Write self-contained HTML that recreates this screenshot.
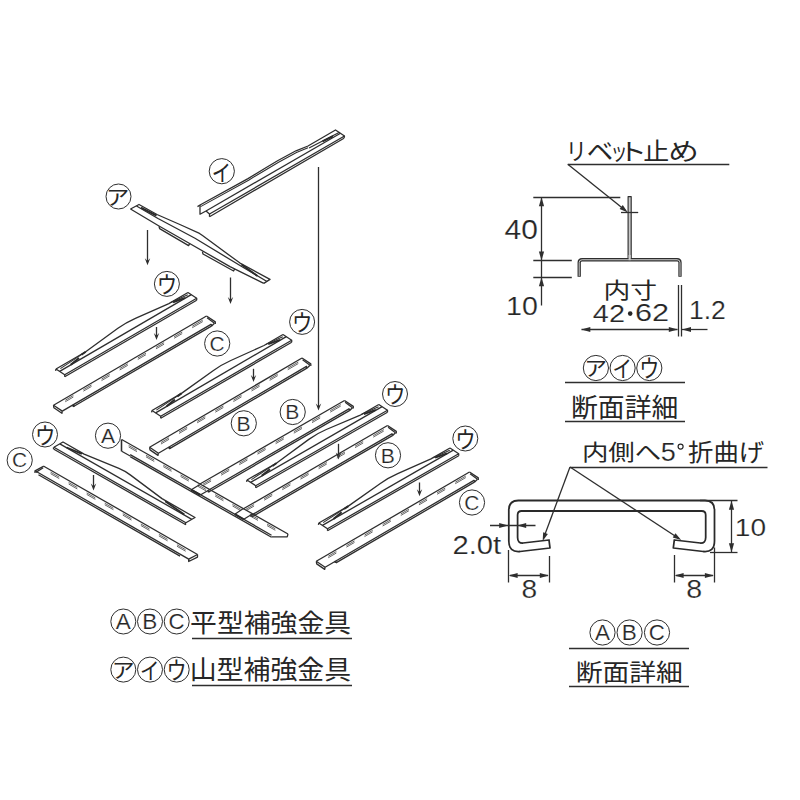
<!DOCTYPE html>
<html lang="ja"><head><meta charset="utf-8"><title>補強金具 断面詳細</title>
<style>
html,body{margin:0;padding:0;background:#fff;}
body{width:800px;height:800px;overflow:hidden;font-family:"Liberation Sans","Noto Sans CJK JP",sans-serif;}
svg{display:block;}
svg text{font-family:"Liberation Sans","Noto Sans CJK JP",sans-serif;}
</style></head><body>
<svg width="800" height="800" viewBox="0 0 800 800" stroke-linecap="butt" stroke-linejoin="round">
<rect width="800" height="800" fill="#fff"/>
<text transform="matrix(0.2104 0 0 0.2364 565.67 160.19)" font-size="100" fill="#262626">リ</text>
<text transform="matrix(0.2652 0 0 0.2364 586.69 160.19)" font-size="100" fill="#262626">ベ</text>
<text transform="matrix(0.1692 0 0 0.2364 610.61 160.19)" font-size="100" fill="#262626">ッ</text>
<text transform="matrix(0.2857 0 0 0.2364 618.30 160.19)" font-size="100" fill="#262626">ト</text>
<text transform="matrix(0.2600 0 0 0.2364 643.33 160.19)" font-size="100" fill="#262626">止</text>
<text transform="matrix(0.3061 0 0 0.2364 668.17 160.19)" font-size="100" fill="#262626">め</text>
<line x1="567.8" y1="164.5" x2="729.3" y2="164.5" stroke="#2e2e2e" stroke-width="1.43"/>
<line x1="567.8" y1="164.2" x2="625.5" y2="210.6" stroke="#2e2e2e" stroke-width="1.3"/>
<path d="M627.8 212.4 L619.62 208.99 L622.77 205.11 Z" fill="#2e2e2e" stroke="none"/>
<rect x="628.1" y="196.6" width="3.1" height="62" fill="#c8c8c8" stroke="#2e2e2e" stroke-width="1.15"/>
<line x1="621" y1="212.5" x2="638.2" y2="212.5" stroke="#2e2e2e" stroke-width="1.3"/>
<path d="M579.2 276.7 L579.2 262.6 Q579.2 259.75 582.1 259.75 L677.1 259.75 Q680 259.75 680 262.6 L680 276.7" fill="none" stroke="#2e2e2e" stroke-width="3.3"/>
<path d="M579.2 276 L579.2 262.6 Q579.2 259.75 582.1 259.75 L677.1 259.75 Q680 259.75 680 262.6 L680 276" fill="none" stroke="#cfcfcf" stroke-width="1.0"/>
<rect x="628.6" y="255" width="2.1" height="5.2" fill="#cfcfcf"/>
<line x1="533.3" y1="197.5" x2="620.3" y2="197.5" stroke="#2e2e2e" stroke-width="1.3"/>
<line x1="533.3" y1="260.5" x2="571.8" y2="260.5" stroke="#2e2e2e" stroke-width="1.3"/>
<line x1="533.3" y1="277.5" x2="571.8" y2="277.5" stroke="#2e2e2e" stroke-width="1.3"/>
<line x1="541.5" y1="197" x2="541.5" y2="277" stroke="#2e2e2e" stroke-width="1.3"/>
<path d="M541.5 197.3 L544.1 206.3 L538.9 206.3 Z" fill="#2e2e2e" stroke="none"/>
<path d="M541.5 260.6 L538.9 251.6 L544.1 251.6 Z" fill="#2e2e2e" stroke="none"/>
<line x1="541.5" y1="277" x2="541.5" y2="305.5" stroke="#2e2e2e" stroke-width="1.3"/>
<path d="M541.5 277.3 L544.1 286.3 L538.9 286.3 Z" fill="#2e2e2e" stroke="none"/>
<text transform="matrix(0.2999 0 0 0.2740 504.61 238.93)" font-size="100" fill="#262626" stroke="#fff" stroke-width="0.70">40</text>
<text transform="matrix(0.2858 0 0 0.2599 506.12 314.95)" font-size="100" fill="#262626" stroke="#fff" stroke-width="0.73">10</text>
<text transform="matrix(0.2681 0 0 0.2202 603.55 297.99)" font-size="100" fill="#262626">内寸</text>
<text transform="matrix(0.2887 0 0 0.2349 592.84 321.60)" font-size="100" fill="#262626" stroke="#fff" stroke-width="0.76">42</text>
<circle cx="630.2" cy="313.6" r="2.3" fill="#262626"/>
<text transform="matrix(0.3066 0 0 0.2316 634.94 321.37)" font-size="100" fill="#262626" stroke="#fff" stroke-width="0.74">62</text>
<text transform="matrix(0.2651 0 0 0.2578 688.98 319.20)" font-size="100" fill="#262626" stroke="#fff" stroke-width="0.76">1.2</text>
<line x1="678.5" y1="285" x2="678.5" y2="336.5" stroke="#2e2e2e" stroke-width="1.3"/>
<line x1="681.5" y1="285" x2="681.5" y2="336.5" stroke="#2e2e2e" stroke-width="1.3"/>
<line x1="581.5" y1="329.5" x2="677.5" y2="329.5" stroke="#2e2e2e" stroke-width="1.3"/>
<path d="M581.3 329.5 L590.3 326.9 L590.3 332.1 Z" fill="#2e2e2e" stroke="none"/>
<path d="M677.8 329.5 L668.8 332.1 L668.8 326.9 Z" fill="#2e2e2e" stroke="none"/>
<line x1="682" y1="329.5" x2="707.5" y2="329.5" stroke="#2e2e2e" stroke-width="1.3"/>
<path d="M682 329.5 L691 326.9 L691 332.1 Z" fill="#2e2e2e" stroke="none"/>
<circle cx="595.9" cy="368" r="12.6" fill="none" stroke="#2e2e2e" stroke-width="1.0"/>
<text transform="matrix(0.2292 0 0 0.2058 584.36 376.04)" font-size="100" fill="#262626">ア</text>
<circle cx="622.6" cy="368" r="12.6" fill="none" stroke="#2e2e2e" stroke-width="1.0"/>
<text transform="matrix(0.1943 0 0 0.2310 612.53 377.48)" font-size="100" fill="#262626">イ</text>
<circle cx="649.3" cy="368" r="12.6" fill="none" stroke="#2e2e2e" stroke-width="1.0"/>
<text transform="matrix(0.2011 0 0 0.2411 639.17 377.41)" font-size="100" fill="#262626">ウ</text>
<line x1="565" y1="382.5" x2="685" y2="382.5" stroke="#2e2e2e" stroke-width="1.56"/>
<text transform="matrix(0.2681 0 0 0.2578 571.03 416.51)" font-size="100" fill="#262626">断面詳細</text>
<line x1="565" y1="421.5" x2="685" y2="421.5" stroke="#2e2e2e" stroke-width="1.56"/>
<text transform="matrix(0.2647 0 0 0.2169 581.88 459.72)" font-size="100" fill="#262626">内側へ</text>
<text transform="matrix(0.2700 0 0 0.2580 660.72 460.75)" font-size="100" fill="#262626" stroke="#fff" stroke-width="0.76">5</text>
<circle cx="680.6" cy="446.6" r="2.5" fill="none" stroke="#262626" stroke-width="1.2"/>
<text transform="matrix(0.2535 0 0 0.2337 688.09 460.63)" font-size="100" fill="#262626">折曲げ</text>
<line x1="570" y1="467.5" x2="767.5" y2="467.5" stroke="#2e2e2e" stroke-width="1.56"/>
<line x1="570" y1="467" x2="543.6" y2="538" stroke="#2e2e2e" stroke-width="1.3"/>
<path d="M542.6 541 L543.2 532.16 L547.89 533.9 Z" fill="#2e2e2e" stroke="none"/>
<line x1="570" y1="467" x2="678.5" y2="538.3" stroke="#2e2e2e" stroke-width="1.3"/>
<path d="M681.2 540.1 L672.72 537.52 L675.47 533.34 Z" fill="#2e2e2e" stroke="none"/>
<path d="M550 548 L549 540 L523 543 Q517.6 543.3 517.6 537.5 L517.6 515 Q517.6 511 521.6 511 L701.7 511 Q705.7 511 705.7 515 L705.7 537.5 Q705.7 543.3 700.3 543 L674.3 540 L673.3 548 L703.3 551.5 Q714.5 552.5 714.5 541 L714.5 510 Q714.5 500.5 705 500.5 L518.3 500.5 Q508.8 500.5 508.8 510 L508.8 541 Q508.8 552.5 520 551.5 Z" fill="none" stroke="#2a2a2a" stroke-width="1.76"/>
<line x1="490" y1="525.5" x2="535.5" y2="525.5" stroke="#2e2e2e" stroke-width="1.3"/>
<path d="M508.2 525.5 L499.2 528.1 L499.2 522.9 Z" fill="#2e2e2e" stroke="none"/>
<path d="M517.2 525.5 L526.2 522.9 L526.2 528.1 Z" fill="#2e2e2e" stroke="none"/>
<text transform="matrix(0.2919 0 0 0.2542 452.53 554.25)" font-size="100" fill="#262626" stroke="#fff" stroke-width="0.73">2.0t</text>
<line x1="508.5" y1="550" x2="508.5" y2="582.5" stroke="#2e2e2e" stroke-width="1.3"/>
<line x1="549.5" y1="556" x2="549.5" y2="582.5" stroke="#2e2e2e" stroke-width="1.3"/>
<line x1="510" y1="575.5" x2="548" y2="575.5" stroke="#2e2e2e" stroke-width="1.3"/>
<path d="M508.6 575.5 L517.6 572.9 L517.6 578.1 Z" fill="#2e2e2e" stroke="none"/>
<path d="M548.8 575.5 L539.8 578.1 L539.8 572.9 Z" fill="#2e2e2e" stroke="none"/>
<text transform="matrix(0.2813 0 0 0.2514 521.58 597.75)" font-size="100" fill="#262626" stroke="#fff" stroke-width="0.75">8</text>
<line x1="674.5" y1="555" x2="674.5" y2="582.5" stroke="#2e2e2e" stroke-width="1.3"/>
<line x1="714.5" y1="547.5" x2="714.5" y2="582.5" stroke="#2e2e2e" stroke-width="1.3"/>
<line x1="676" y1="575.5" x2="713" y2="575.5" stroke="#2e2e2e" stroke-width="1.3"/>
<path d="M674.6 575.5 L683.6 572.9 L683.6 578.1 Z" fill="#2e2e2e" stroke="none"/>
<path d="M713.9 575.5 L704.9 578.1 L704.9 572.9 Z" fill="#2e2e2e" stroke="none"/>
<text transform="matrix(0.2856 0 0 0.2514 686.36 597.75)" font-size="100" fill="#262626" stroke="#fff" stroke-width="0.74">8</text>
<line x1="700" y1="500.5" x2="737.5" y2="500.5" stroke="#2e2e2e" stroke-width="1.3"/>
<line x1="710" y1="552.5" x2="737.5" y2="552.5" stroke="#2e2e2e" stroke-width="1.3"/>
<line x1="731.5" y1="501" x2="731.5" y2="552" stroke="#2e2e2e" stroke-width="1.3"/>
<path d="M731.5 500.8 L734.1 509.8 L728.9 509.8 Z" fill="#2e2e2e" stroke="none"/>
<path d="M731.5 552.2 L728.9 543.2 L734.1 543.2 Z" fill="#2e2e2e" stroke="none"/>
<text transform="matrix(0.2808 0 0 0.2472 734.86 536.26)" font-size="100" fill="#262626" stroke="#fff" stroke-width="0.76">10</text>
<circle cx="602.5" cy="632.5" r="12.6" fill="none" stroke="#2e2e2e" stroke-width="1.0"/>
<text transform="matrix(0.2253 0 0 0.2253 594.99 640.25)" font-size="100" fill="#262626" stroke="#fff" stroke-width="0.89">A</text>
<circle cx="629.6" cy="632.5" r="12.6" fill="none" stroke="#2e2e2e" stroke-width="1.0"/>
<text transform="matrix(0.2253 0 0 0.2253 621.76 640.25)" font-size="100" fill="#262626" stroke="#fff" stroke-width="0.89">B</text>
<circle cx="657" cy="632.5" r="12.6" fill="none" stroke="#2e2e2e" stroke-width="1.0"/>
<text transform="matrix(0.2232 0 0 0.2232 648.80 640.18)" font-size="100" fill="#262626" stroke="#fff" stroke-width="0.90">C</text>
<line x1="569" y1="648.5" x2="689" y2="648.5" stroke="#2e2e2e" stroke-width="1.56"/>
<text transform="matrix(0.2681 0 0 0.2342 575.63 680.92)" font-size="100" fill="#262626">断面詳細</text>
<line x1="569" y1="686.5" x2="689" y2="686.5" stroke="#2e2e2e" stroke-width="1.56"/>
<circle cx="123.3" cy="621.5" r="12.5" fill="none" stroke="#2e2e2e" stroke-width="1.0"/>
<text transform="matrix(0.2253 0 0 0.2253 115.79 629.25)" font-size="100" fill="#262626" stroke="#fff" stroke-width="0.89">A</text>
<circle cx="150" cy="621.5" r="12.5" fill="none" stroke="#2e2e2e" stroke-width="1.0"/>
<text transform="matrix(0.2253 0 0 0.2253 142.16 629.25)" font-size="100" fill="#262626" stroke="#fff" stroke-width="0.89">B</text>
<circle cx="176.7" cy="621.5" r="12.5" fill="none" stroke="#2e2e2e" stroke-width="1.0"/>
<text transform="matrix(0.2232 0 0 0.2232 168.50 629.18)" font-size="100" fill="#262626" stroke="#fff" stroke-width="0.90">C</text>
<text transform="matrix(0.2685 0 0 0.2543 190.10 631.74)" font-size="100" fill="#262626">平型補強金具</text>
<line x1="192" y1="638.5" x2="352" y2="638.5" stroke="#2e2e2e" stroke-width="1.69"/>
<circle cx="123.3" cy="669.6" r="12.5" fill="none" stroke="#2e2e2e" stroke-width="1.0"/>
<text transform="matrix(0.2292 0 0 0.2058 111.76 677.64)" font-size="100" fill="#262626">ア</text>
<circle cx="150" cy="669.6" r="12.5" fill="none" stroke="#2e2e2e" stroke-width="1.0"/>
<text transform="matrix(0.1943 0 0 0.2310 139.93 679.08)" font-size="100" fill="#262626">イ</text>
<circle cx="176.7" cy="669.6" r="12.5" fill="none" stroke="#2e2e2e" stroke-width="1.0"/>
<text transform="matrix(0.2011 0 0 0.2411 166.57 679.01)" font-size="100" fill="#262626">ウ</text>
<text transform="matrix(0.2692 0 0 0.2575 189.67 678.71)" font-size="100" fill="#262626">山型補強金具</text>
<line x1="192" y1="685.5" x2="352" y2="685.5" stroke="#2e2e2e" stroke-width="1.69"/>
<path d="M197.5 206.6 L200 205 L248 178.6 Q262 170 278 160.5 L296 150.8 L308 146 L335.5 130 L344.5 136 L344 138.2" fill="none" stroke="#2e2e2e" stroke-width="1.3"/>
<path d="M200 205 L200 214.2 L206 211" fill="none" stroke="#2e2e2e" stroke-width="1.3" />
<path d="M200.6 206.6 L248.6 180.2 Q262.6 171.7 278.6 162.2 L296.5 152.5 L308 147.8" fill="none" stroke="#2e2e2e" stroke-width="1.04"/>
<line x1="206" y1="211" x2="340.5" y2="133.2" stroke="#2e2e2e" stroke-width="1.3"/>
<path d="M206 211 L209.5 214 L209.5 216.7" fill="none" stroke="#2e2e2e" stroke-width="1.3" />
<line x1="209.5" y1="214" x2="344.5" y2="136" stroke="#2e2e2e" stroke-width="1.3"/>
<line x1="209.5" y1="216.7" x2="344" y2="138.2" stroke="#2e2e2e" stroke-width="1.3"/>
<line x1="309" y1="148" x2="339.5" y2="132.2" stroke="#2e2e2e" stroke-width="1.17"/>
<line x1="322.5" y1="141.4" x2="333" y2="136.2" stroke="#2a2a2a" stroke-width="2.08"/>
<line x1="318.5" y1="167" x2="318.5" y2="407.1" stroke="#2e2e2e" stroke-width="1.3"/>
<path d="M318.5 410.6 L315.8 403.6 L318.5 406.26 L321.2 403.6 Z" fill="#2e2e2e" stroke="none"/>
<path d="M130.5 209 L139 204.5 L157 214.5 L181 225 L199.5 233.4 L202.5 235.6 L240 263.1 L270 279.4 L263.8 283.4" fill="none" stroke="#2e2e2e" stroke-width="1.3" />
<path d="M130.5 209 L159 226 L187 242 L230 266.6 L263.8 283.4" fill="none" stroke="#2e2e2e" stroke-width="1.3" />
<path d="M136.5 206 L158 218.5 L195 238.3 L242.5 267 L267 281.5" fill="none" stroke="#2e2e2e" stroke-width="1.3" />
<line x1="141" y1="207.6" x2="156.5" y2="215.6" stroke="#2a2a2a" stroke-width="1.95"/>
<line x1="241.5" y1="264.5" x2="257.5" y2="276" stroke="#2a2a2a" stroke-width="1.95"/>
<path d="M159 226.4 L159.6 228.6 L188.6 245.6 L189.8 243.4" fill="none" stroke="#2e2e2e" stroke-width="1.3" />
<path d="M202.4 251.6 L203 254 L233.6 271 L234.6 269" fill="none" stroke="#2e2e2e" stroke-width="1.3" />
<line x1="147.5" y1="230" x2="147.5" y2="261.8" stroke="#2e2e2e" stroke-width="1.3"/>
<path d="M147.5 265.3 L144.8 258.3 L147.5 260.96 L150.2 258.3 Z" fill="#2e2e2e" stroke="none"/>
<line x1="230.5" y1="277.5" x2="230.5" y2="300.5" stroke="#2e2e2e" stroke-width="1.3"/>
<path d="M230.5 304 L227.8 297 L230.5 299.66 L233.2 297 Z" fill="#2e2e2e" stroke="none"/>
<path d="M56 369 L85.7 351.79 L117.91 328.32 Q125.96 322.45 135.4 318.31 L168.86 303.59 L188 292.5" fill="none" stroke="#2e2e2e" stroke-width="1.3"/>
<line x1="59.65" y1="371.39" x2="191.31" y2="294.67" stroke="#2e2e2e" stroke-width="1.3"/>
<line x1="64.7" y1="374.7" x2="196.7" y2="298.2" stroke="#2e2e2e" stroke-width="1.3"/>
<line x1="64.7" y1="376.7" x2="196.7" y2="300.2" stroke="#2e2e2e" stroke-width="1.3"/>
<path d="M56 369 L64.7 374.7 L64.7 376.7" fill="none" stroke="#2e2e2e" stroke-width="1.3" />
<path d="M188 292.5 L196.7 298.2 L196.7 300.2" fill="none" stroke="#2e2e2e" stroke-width="1.3" />
<line x1="56" y1="369" x2="55.6" y2="370.8" stroke="#2e2e2e" stroke-width="1.3"/>
<line x1="70.7" y1="364.78" x2="79.03" y2="358.01" stroke="#2a2a2a" stroke-width="1.95"/>
<line x1="81.52" y1="354.75" x2="85.7" y2="351.79" stroke="#2a2a2a" stroke-width="1.95"/>
<line x1="173.03" y1="302.25" x2="185.02" y2="297.88" stroke="#2a2a2a" stroke-width="1.95"/>
<line x1="60.38" y1="368.61" x2="82.57" y2="353.81" stroke="#2e2e2e" stroke-width="1.04"/>
<line x1="170.84" y1="302.44" x2="187.76" y2="294.79" stroke="#2e2e2e" stroke-width="1.04"/>
<path d="M152 410.5 L181.47 393.4 L213.44 370.46 Q221.43 364.72 230.8 360.5 L264 345.52 L283 334.5" fill="none" stroke="#2e2e2e" stroke-width="1.3"/>
<line x1="155.65" y1="412.89" x2="286.31" y2="336.67" stroke="#2e2e2e" stroke-width="1.3"/>
<line x1="160.7" y1="416.2" x2="291.7" y2="340.2" stroke="#2e2e2e" stroke-width="1.3"/>
<line x1="160.7" y1="418.2" x2="291.7" y2="342.2" stroke="#2e2e2e" stroke-width="1.3"/>
<path d="M152 410.5 L160.7 416.2 L160.7 418.2" fill="none" stroke="#2e2e2e" stroke-width="1.3" />
<path d="M283 334.5 L291.7 340.2 L291.7 342.2" fill="none" stroke="#2e2e2e" stroke-width="1.3" />
<line x1="152" y1="410.5" x2="151.6" y2="412.3" stroke="#2e2e2e" stroke-width="1.3"/>
<line x1="166.61" y1="406.32" x2="174.87" y2="399.59" stroke="#2a2a2a" stroke-width="1.95"/>
<line x1="177.32" y1="396.35" x2="181.47" y2="393.4" stroke="#2a2a2a" stroke-width="1.95"/>
<line x1="268.15" y1="344.19" x2="280.06" y2="339.86" stroke="#2a2a2a" stroke-width="1.95"/>
<line x1="156.36" y1="410.12" x2="178.37" y2="395.41" stroke="#2e2e2e" stroke-width="1.04"/>
<line x1="265.97" y1="344.38" x2="282.77" y2="336.78" stroke="#2e2e2e" stroke-width="1.04"/>
<path d="M247 480 L276.66 463.01 L308.81 439.39 Q316.85 433.49 326.28 429.52 L359.69 415.45 L378.8 404.5" fill="none" stroke="#2e2e2e" stroke-width="1.3"/>
<line x1="250.65" y1="482.39" x2="382.11" y2="406.67" stroke="#2e2e2e" stroke-width="1.3"/>
<line x1="255.7" y1="485.7" x2="387.5" y2="410.2" stroke="#2e2e2e" stroke-width="1.3"/>
<line x1="255.7" y1="487.7" x2="387.5" y2="412.2" stroke="#2e2e2e" stroke-width="1.3"/>
<path d="M247 480 L255.7 485.7 L255.7 487.7" fill="none" stroke="#2e2e2e" stroke-width="1.3" />
<path d="M378.8 404.5 L387.5 410.2 L387.5 412.2" fill="none" stroke="#2e2e2e" stroke-width="1.3" />
<line x1="247" y1="480" x2="246.6" y2="481.8" stroke="#2e2e2e" stroke-width="1.3"/>
<line x1="261.68" y1="475.86" x2="270" y2="469.17" stroke="#2a2a2a" stroke-width="1.95"/>
<line x1="272.48" y1="465.94" x2="276.66" y2="463.01" stroke="#2a2a2a" stroke-width="1.95"/>
<line x1="363.85" y1="414.13" x2="375.83" y2="409.84" stroke="#2a2a2a" stroke-width="1.95"/>
<line x1="251.38" y1="479.63" x2="273.53" y2="465.01" stroke="#2e2e2e" stroke-width="1.04"/>
<line x1="361.67" y1="414.31" x2="378.56" y2="406.77" stroke="#2e2e2e" stroke-width="1.04"/>
<path d="M318.8 523 L348.32 506.12 L380.33 483.43 Q388.34 477.75 397.72 473.6 L430.98 458.88 L450 448" fill="none" stroke="#2e2e2e" stroke-width="1.3"/>
<line x1="322.45" y1="525.39" x2="453.31" y2="450.17" stroke="#2e2e2e" stroke-width="1.3"/>
<line x1="327.5" y1="528.7" x2="458.7" y2="453.7" stroke="#2e2e2e" stroke-width="1.3"/>
<line x1="327.5" y1="530.7" x2="458.7" y2="455.7" stroke="#2e2e2e" stroke-width="1.3"/>
<path d="M318.8 523 L327.5 528.7 L327.5 530.7" fill="none" stroke="#2e2e2e" stroke-width="1.3" />
<path d="M450 448 L458.7 453.7 L458.7 455.7" fill="none" stroke="#2e2e2e" stroke-width="1.3" />
<line x1="318.8" y1="523" x2="318.4" y2="524.8" stroke="#2e2e2e" stroke-width="1.3"/>
<line x1="333.43" y1="518.9" x2="341.71" y2="512.25" stroke="#2a2a2a" stroke-width="1.95"/>
<line x1="344.16" y1="509.04" x2="348.32" y2="506.12" stroke="#2a2a2a" stroke-width="1.95"/>
<line x1="435.13" y1="457.57" x2="447.05" y2="453.31" stroke="#2a2a2a" stroke-width="1.95"/>
<line x1="323.16" y1="522.64" x2="345.21" y2="508.11" stroke="#2e2e2e" stroke-width="1.04"/>
<line x1="432.94" y1="457.75" x2="449.77" y2="450.26" stroke="#2e2e2e" stroke-width="1.04"/>
<line x1="156.5" y1="327" x2="156.5" y2="336.5" stroke="#2e2e2e" stroke-width="1.3"/>
<path d="M156.5 340 L153.8 333 L156.5 335.66 L159.2 333 Z" fill="#2e2e2e" stroke="none"/>
<line x1="253.5" y1="368.8" x2="253.5" y2="378.5" stroke="#2e2e2e" stroke-width="1.3"/>
<path d="M253.5 382 L250.8 375 L253.5 377.66 L256.2 375 Z" fill="#2e2e2e" stroke="none"/>
<line x1="338.5" y1="443.8" x2="338.5" y2="456" stroke="#2e2e2e" stroke-width="1.3"/>
<path d="M338.5 459.5 L335.8 452.5 L338.5 455.16 L341.2 452.5 Z" fill="#2e2e2e" stroke="none"/>
<line x1="419.5" y1="482.5" x2="419.5" y2="492.8" stroke="#2e2e2e" stroke-width="1.3"/>
<path d="M419.5 496.3 L416.8 489.3 L419.5 491.96 L422.2 489.3 Z" fill="#2e2e2e" stroke="none"/>
<line x1="53.5" y1="405.2" x2="206.5" y2="316" stroke="#2e2e2e" stroke-width="1.3"/>
<line x1="62.3" y1="411.1" x2="211.41" y2="324.17" stroke="#2e2e2e" stroke-width="1.3"/>
<line x1="73.1" y1="406.8" x2="211.41" y2="326.17" stroke="#2e2e2e" stroke-width="1.3"/>
<line x1="73.5" y1="404.8" x2="73.5" y2="406.8" stroke="#2a2a2a" stroke-width="2.08"/>
<path d="M53.5 405.2 L53.9 407.8 L61.9 413.3 L62.3 411.1" fill="none" stroke="#2e2e2e" stroke-width="1.3" />
<line x1="53.5" y1="405.2" x2="62.3" y2="411.1" stroke="#2e2e2e" stroke-width="1.3"/>
<path d="M206.5 316 L215.3 321.9 L215.3 324.1" fill="none" stroke="#2e2e2e" stroke-width="1.3" />
<line x1="207.1" y1="317.7" x2="214.5" y2="323.3" stroke="#2e2e2e" stroke-width="1.3"/>
<line x1="211.5" y1="324.17" x2="211.5" y2="326.17" stroke="#2e2e2e" stroke-width="1.3"/>
<line x1="211.41" y1="326.17" x2="214.5" y2="323.3" stroke="#2e2e2e" stroke-width="1.3"/>
<line x1="192.25" y1="326.21" x2="202.79" y2="320.07" stroke="#4a4a4a" stroke-width="0.85"/>
<line x1="192.25" y1="327.71" x2="202.79" y2="321.57" stroke="#4a4a4a" stroke-width="0.85"/>
<line x1="174.1" y1="336.79" x2="182.22" y2="332.05" stroke="#4a4a4a" stroke-width="0.85"/>
<line x1="174.1" y1="338.29" x2="182.22" y2="333.55" stroke="#4a4a4a" stroke-width="0.85"/>
<line x1="155.96" y1="347.36" x2="164.08" y2="342.63" stroke="#4a4a4a" stroke-width="0.85"/>
<line x1="155.96" y1="348.86" x2="164.08" y2="344.13" stroke="#4a4a4a" stroke-width="0.85"/>
<line x1="137.82" y1="357.94" x2="145.94" y2="353.21" stroke="#4a4a4a" stroke-width="0.85"/>
<line x1="137.82" y1="359.44" x2="145.94" y2="354.71" stroke="#4a4a4a" stroke-width="0.85"/>
<line x1="119.68" y1="368.52" x2="127.8" y2="363.78" stroke="#4a4a4a" stroke-width="0.85"/>
<line x1="119.68" y1="370.02" x2="127.8" y2="365.28" stroke="#4a4a4a" stroke-width="0.85"/>
<line x1="101.54" y1="379.09" x2="109.66" y2="374.36" stroke="#4a4a4a" stroke-width="0.85"/>
<line x1="101.54" y1="380.59" x2="109.66" y2="375.86" stroke="#4a4a4a" stroke-width="0.85"/>
<line x1="83.39" y1="389.67" x2="91.51" y2="384.94" stroke="#4a4a4a" stroke-width="0.85"/>
<line x1="83.39" y1="391.17" x2="91.51" y2="386.44" stroke="#4a4a4a" stroke-width="0.85"/>
<line x1="65.25" y1="400.25" x2="73.37" y2="395.51" stroke="#4a4a4a" stroke-width="0.85"/>
<line x1="65.25" y1="401.75" x2="73.37" y2="397.01" stroke="#4a4a4a" stroke-width="0.85"/>
<line x1="149.6" y1="447.3" x2="302" y2="358" stroke="#2e2e2e" stroke-width="1.3"/>
<line x1="158.4" y1="453.2" x2="306.92" y2="366.18" stroke="#2e2e2e" stroke-width="1.3"/>
<line x1="169.18" y1="448.88" x2="306.92" y2="368.18" stroke="#2e2e2e" stroke-width="1.3"/>
<line x1="169.5" y1="446.88" x2="169.5" y2="448.88" stroke="#2a2a2a" stroke-width="2.08"/>
<path d="M149.6 447.3 L150 449.9 L158 455.4 L158.4 453.2" fill="none" stroke="#2e2e2e" stroke-width="1.3" />
<line x1="149.6" y1="447.3" x2="158.4" y2="453.2" stroke="#2e2e2e" stroke-width="1.3"/>
<path d="M302 358 L310.8 363.9 L310.8 366.1" fill="none" stroke="#2e2e2e" stroke-width="1.3" />
<line x1="302.6" y1="359.7" x2="310" y2="365.3" stroke="#2e2e2e" stroke-width="1.3"/>
<line x1="306.5" y1="366.18" x2="306.5" y2="368.18" stroke="#2e2e2e" stroke-width="1.3"/>
<line x1="306.92" y1="368.18" x2="310" y2="365.3" stroke="#2e2e2e" stroke-width="1.3"/>
<line x1="287.76" y1="368.24" x2="298.29" y2="362.07" stroke="#4a4a4a" stroke-width="0.85"/>
<line x1="287.76" y1="369.74" x2="298.29" y2="363.57" stroke="#4a4a4a" stroke-width="0.85"/>
<line x1="269.65" y1="378.86" x2="277.76" y2="374.11" stroke="#4a4a4a" stroke-width="0.85"/>
<line x1="269.65" y1="380.36" x2="277.76" y2="375.61" stroke="#4a4a4a" stroke-width="0.85"/>
<line x1="251.53" y1="389.48" x2="259.64" y2="384.72" stroke="#4a4a4a" stroke-width="0.85"/>
<line x1="251.53" y1="390.98" x2="259.64" y2="386.22" stroke="#4a4a4a" stroke-width="0.85"/>
<line x1="233.41" y1="400.09" x2="241.52" y2="395.34" stroke="#4a4a4a" stroke-width="0.85"/>
<line x1="233.41" y1="401.59" x2="241.52" y2="396.84" stroke="#4a4a4a" stroke-width="0.85"/>
<line x1="215.29" y1="410.71" x2="223.4" y2="405.96" stroke="#4a4a4a" stroke-width="0.85"/>
<line x1="215.29" y1="412.21" x2="223.4" y2="407.46" stroke="#4a4a4a" stroke-width="0.85"/>
<line x1="197.17" y1="421.33" x2="205.28" y2="416.57" stroke="#4a4a4a" stroke-width="0.85"/>
<line x1="197.17" y1="422.83" x2="205.28" y2="418.07" stroke="#4a4a4a" stroke-width="0.85"/>
<line x1="179.05" y1="431.94" x2="187.16" y2="427.19" stroke="#4a4a4a" stroke-width="0.85"/>
<line x1="179.05" y1="433.44" x2="187.16" y2="428.69" stroke="#4a4a4a" stroke-width="0.85"/>
<line x1="160.93" y1="442.56" x2="169.04" y2="437.81" stroke="#4a4a4a" stroke-width="0.85"/>
<line x1="160.93" y1="444.06" x2="169.04" y2="439.31" stroke="#4a4a4a" stroke-width="0.85"/>
<line x1="316.3" y1="561.3" x2="469.5" y2="472" stroke="#2e2e2e" stroke-width="1.3"/>
<line x1="325.1" y1="567.2" x2="474.41" y2="480.17" stroke="#2e2e2e" stroke-width="1.3"/>
<line x1="335.9" y1="562.91" x2="474.41" y2="482.17" stroke="#2e2e2e" stroke-width="1.3"/>
<line x1="335.5" y1="560.91" x2="335.5" y2="562.91" stroke="#2a2a2a" stroke-width="2.08"/>
<path d="M316.3 561.3 L316.7 563.9 L324.7 569.4 L325.1 567.2" fill="none" stroke="#2e2e2e" stroke-width="1.3" />
<line x1="316.3" y1="561.3" x2="325.1" y2="567.2" stroke="#2e2e2e" stroke-width="1.3"/>
<path d="M469.5 472 L478.3 477.9 L478.3 480.1" fill="none" stroke="#2e2e2e" stroke-width="1.3" />
<line x1="470.1" y1="473.7" x2="477.5" y2="479.3" stroke="#2e2e2e" stroke-width="1.3"/>
<line x1="474.5" y1="480.17" x2="474.5" y2="482.17" stroke="#2e2e2e" stroke-width="1.3"/>
<line x1="474.41" y1="482.17" x2="477.5" y2="479.3" stroke="#2e2e2e" stroke-width="1.3"/>
<line x1="455.24" y1="482.21" x2="465.79" y2="476.07" stroke="#4a4a4a" stroke-width="0.85"/>
<line x1="455.24" y1="483.71" x2="465.79" y2="477.57" stroke="#4a4a4a" stroke-width="0.85"/>
<line x1="437.1" y1="492.78" x2="445.22" y2="488.05" stroke="#4a4a4a" stroke-width="0.85"/>
<line x1="437.1" y1="494.28" x2="445.22" y2="489.55" stroke="#4a4a4a" stroke-width="0.85"/>
<line x1="418.96" y1="503.36" x2="427.08" y2="498.63" stroke="#4a4a4a" stroke-width="0.85"/>
<line x1="418.96" y1="504.86" x2="427.08" y2="500.13" stroke="#4a4a4a" stroke-width="0.85"/>
<line x1="400.82" y1="513.94" x2="408.94" y2="509.2" stroke="#4a4a4a" stroke-width="0.85"/>
<line x1="400.82" y1="515.44" x2="408.94" y2="510.7" stroke="#4a4a4a" stroke-width="0.85"/>
<line x1="382.67" y1="524.51" x2="390.79" y2="519.78" stroke="#4a4a4a" stroke-width="0.85"/>
<line x1="382.67" y1="526.01" x2="390.79" y2="521.28" stroke="#4a4a4a" stroke-width="0.85"/>
<line x1="364.53" y1="535.09" x2="372.65" y2="530.35" stroke="#4a4a4a" stroke-width="0.85"/>
<line x1="364.53" y1="536.59" x2="372.65" y2="531.85" stroke="#4a4a4a" stroke-width="0.85"/>
<line x1="346.39" y1="545.66" x2="354.51" y2="540.93" stroke="#4a4a4a" stroke-width="0.85"/>
<line x1="346.39" y1="547.16" x2="354.51" y2="542.43" stroke="#4a4a4a" stroke-width="0.85"/>
<line x1="328.25" y1="556.24" x2="336.37" y2="551.5" stroke="#4a4a4a" stroke-width="0.85"/>
<line x1="328.25" y1="557.74" x2="336.37" y2="553" stroke="#4a4a4a" stroke-width="0.85"/>
<line x1="199.5" y1="484.31" x2="344.5" y2="400.5" stroke="#2e2e2e" stroke-width="1.3"/>
<line x1="208.3" y1="490.21" x2="349.4" y2="408.65" stroke="#2e2e2e" stroke-width="1.3"/>
<line x1="208.3" y1="492.21" x2="349.4" y2="410.65" stroke="#2e2e2e" stroke-width="1.3"/>
<line x1="208.5" y1="490.21" x2="208.5" y2="492.21" stroke="#2a2a2a" stroke-width="2.08"/>
<path d="M344.5 400.5 L353.3 406.4 L353.3 408.6" fill="none" stroke="#2e2e2e" stroke-width="1.3" />
<line x1="345.1" y1="402.2" x2="352.5" y2="407.8" stroke="#2e2e2e" stroke-width="1.3"/>
<line x1="349.5" y1="408.65" x2="349.5" y2="410.65" stroke="#2e2e2e" stroke-width="1.3"/>
<line x1="349.4" y1="410.65" x2="352.5" y2="407.8" stroke="#2e2e2e" stroke-width="1.3"/>
<line x1="330.21" y1="410.66" x2="340.78" y2="404.55" stroke="#4a4a4a" stroke-width="0.85"/>
<line x1="330.21" y1="412.16" x2="340.78" y2="406.05" stroke="#4a4a4a" stroke-width="0.85"/>
<line x1="312.03" y1="421.17" x2="320.17" y2="416.46" stroke="#4a4a4a" stroke-width="0.85"/>
<line x1="312.03" y1="422.67" x2="320.17" y2="417.96" stroke="#4a4a4a" stroke-width="0.85"/>
<line x1="293.85" y1="431.67" x2="301.99" y2="426.97" stroke="#4a4a4a" stroke-width="0.85"/>
<line x1="293.85" y1="433.17" x2="301.99" y2="428.47" stroke="#4a4a4a" stroke-width="0.85"/>
<line x1="275.67" y1="442.18" x2="283.81" y2="437.48" stroke="#4a4a4a" stroke-width="0.85"/>
<line x1="275.67" y1="443.68" x2="283.81" y2="438.98" stroke="#4a4a4a" stroke-width="0.85"/>
<line x1="257.49" y1="452.69" x2="265.63" y2="447.99" stroke="#4a4a4a" stroke-width="0.85"/>
<line x1="257.49" y1="454.19" x2="265.63" y2="449.49" stroke="#4a4a4a" stroke-width="0.85"/>
<line x1="239.31" y1="463.2" x2="247.45" y2="458.5" stroke="#4a4a4a" stroke-width="0.85"/>
<line x1="239.31" y1="464.7" x2="247.45" y2="460" stroke="#4a4a4a" stroke-width="0.85"/>
<line x1="221.13" y1="473.71" x2="229.26" y2="469.01" stroke="#4a4a4a" stroke-width="0.85"/>
<line x1="221.13" y1="475.21" x2="229.26" y2="470.51" stroke="#4a4a4a" stroke-width="0.85"/>
<line x1="202.94" y1="484.22" x2="211.08" y2="479.52" stroke="#4a4a4a" stroke-width="0.85"/>
<line x1="202.94" y1="485.72" x2="211.08" y2="481.02" stroke="#4a4a4a" stroke-width="0.85"/>
<line x1="243" y1="509.02" x2="387.5" y2="425.5" stroke="#2e2e2e" stroke-width="1.3"/>
<line x1="251.8" y1="514.92" x2="392.4" y2="433.65" stroke="#2e2e2e" stroke-width="1.3"/>
<line x1="251.8" y1="516.92" x2="392.4" y2="435.65" stroke="#2e2e2e" stroke-width="1.3"/>
<line x1="251.5" y1="514.92" x2="251.5" y2="516.92" stroke="#2a2a2a" stroke-width="2.08"/>
<path d="M387.5 425.5 L396.3 431.4 L396.3 433.6" fill="none" stroke="#2e2e2e" stroke-width="1.3" />
<line x1="388.1" y1="427.2" x2="395.5" y2="432.8" stroke="#2e2e2e" stroke-width="1.3"/>
<line x1="392.5" y1="433.65" x2="392.5" y2="435.65" stroke="#2e2e2e" stroke-width="1.3"/>
<line x1="392.4" y1="435.65" x2="395.5" y2="432.8" stroke="#2e2e2e" stroke-width="1.3"/>
<line x1="373.21" y1="435.66" x2="383.78" y2="429.55" stroke="#4a4a4a" stroke-width="0.85"/>
<line x1="373.21" y1="437.16" x2="383.78" y2="431.05" stroke="#4a4a4a" stroke-width="0.85"/>
<line x1="355.03" y1="446.17" x2="363.17" y2="441.46" stroke="#4a4a4a" stroke-width="0.85"/>
<line x1="355.03" y1="447.67" x2="363.17" y2="442.96" stroke="#4a4a4a" stroke-width="0.85"/>
<line x1="336.85" y1="456.67" x2="344.99" y2="451.97" stroke="#4a4a4a" stroke-width="0.85"/>
<line x1="336.85" y1="458.17" x2="344.99" y2="453.47" stroke="#4a4a4a" stroke-width="0.85"/>
<line x1="318.67" y1="467.18" x2="326.81" y2="462.48" stroke="#4a4a4a" stroke-width="0.85"/>
<line x1="318.67" y1="468.68" x2="326.81" y2="463.98" stroke="#4a4a4a" stroke-width="0.85"/>
<line x1="300.49" y1="477.69" x2="308.63" y2="472.99" stroke="#4a4a4a" stroke-width="0.85"/>
<line x1="300.49" y1="479.19" x2="308.63" y2="474.49" stroke="#4a4a4a" stroke-width="0.85"/>
<line x1="282.31" y1="488.2" x2="290.45" y2="483.5" stroke="#4a4a4a" stroke-width="0.85"/>
<line x1="282.31" y1="489.7" x2="290.45" y2="485" stroke="#4a4a4a" stroke-width="0.85"/>
<line x1="264.13" y1="498.71" x2="272.26" y2="494.01" stroke="#4a4a4a" stroke-width="0.85"/>
<line x1="264.13" y1="500.21" x2="272.26" y2="495.51" stroke="#4a4a4a" stroke-width="0.85"/>
<line x1="245.94" y1="509.22" x2="254.08" y2="504.52" stroke="#4a4a4a" stroke-width="0.85"/>
<line x1="245.94" y1="510.72" x2="254.08" y2="506.02" stroke="#4a4a4a" stroke-width="0.85"/>
<path d="M53.9 447.3 L63 442 L84.12 454.08 L118.9 468.45 Q125.04 470.99 130.58 475.13 L162 498.62 L195 517.5 L185.9 522.8" fill="none" stroke="#2e2e2e" stroke-width="1.3"/>
<line x1="59.81" y1="443.86" x2="191.81" y2="519.36" stroke="#2e2e2e" stroke-width="1.3"/>
<line x1="53.9" y1="447.3" x2="185.9" y2="522.8" stroke="#2e2e2e" stroke-width="1.3"/>
<line x1="53.9" y1="449.3" x2="185.9" y2="524.8" stroke="#2e2e2e" stroke-width="1.3"/>
<line x1="53.5" y1="447.3" x2="53.5" y2="449.3" stroke="#2e2e2e" stroke-width="1.3"/>
<line x1="185.5" y1="522.8" x2="185.5" y2="524.8" stroke="#2e2e2e" stroke-width="1.3"/>
<line x1="66.69" y1="447.47" x2="81.89" y2="453.85" stroke="#2a2a2a" stroke-width="1.82"/>
<line x1="165.23" y1="501.31" x2="184.35" y2="514.56" stroke="#2a2a2a" stroke-width="1.82"/>
<line x1="93.5" y1="475" x2="93.5" y2="487" stroke="#2e2e2e" stroke-width="1.3"/>
<path d="M93.5 490.5 L90.8 483.5 L93.5 486.16 L96.2 483.5 Z" fill="#2e2e2e" stroke="none"/>
<line x1="43.8" y1="466.2" x2="197.5" y2="554.5" stroke="#2e2e2e" stroke-width="1.3"/>
<line x1="35" y1="470.8" x2="188.7" y2="559.1" stroke="#2e2e2e" stroke-width="1.3"/>
<line x1="38.47" y1="474.79" x2="180.03" y2="556.12" stroke="#2e2e2e" stroke-width="1.3"/>
<path d="M35 473 L35 470.8 L43.8 466.2" fill="none" stroke="#2e2e2e" stroke-width="1.3" />
<line x1="35.8" y1="472.4" x2="43.2" y2="467.8" stroke="#2e2e2e" stroke-width="1.3"/>
<path d="M197.5 554.5 L197.5 557.1 L188.7 561.5 L188.7 559.1" fill="none" stroke="#2e2e2e" stroke-width="1.3" />
<line x1="197.5" y1="554.5" x2="188.7" y2="559.1" stroke="#2e2e2e" stroke-width="1.3"/>
<line x1="50.57" y1="472.13" x2="59.24" y2="477.12" stroke="#4a4a4a" stroke-width="0.85"/>
<line x1="50.57" y1="473.63" x2="59.24" y2="478.62" stroke="#4a4a4a" stroke-width="0.85"/>
<line x1="68.63" y1="482.51" x2="77.3" y2="487.49" stroke="#4a4a4a" stroke-width="0.85"/>
<line x1="68.63" y1="484.01" x2="77.3" y2="488.99" stroke="#4a4a4a" stroke-width="0.85"/>
<line x1="86.68" y1="492.88" x2="95.35" y2="497.86" stroke="#4a4a4a" stroke-width="0.85"/>
<line x1="86.68" y1="494.38" x2="95.35" y2="499.36" stroke="#4a4a4a" stroke-width="0.85"/>
<line x1="104.74" y1="503.25" x2="113.41" y2="508.23" stroke="#4a4a4a" stroke-width="0.85"/>
<line x1="104.74" y1="504.75" x2="113.41" y2="509.73" stroke="#4a4a4a" stroke-width="0.85"/>
<line x1="122.79" y1="513.62" x2="131.46" y2="518.61" stroke="#4a4a4a" stroke-width="0.85"/>
<line x1="122.79" y1="515.12" x2="131.46" y2="520.11" stroke="#4a4a4a" stroke-width="0.85"/>
<line x1="140.85" y1="524" x2="149.52" y2="528.98" stroke="#4a4a4a" stroke-width="0.85"/>
<line x1="140.85" y1="525.5" x2="149.52" y2="530.48" stroke="#4a4a4a" stroke-width="0.85"/>
<line x1="158.9" y1="534.37" x2="167.57" y2="539.35" stroke="#4a4a4a" stroke-width="0.85"/>
<line x1="158.9" y1="535.87" x2="167.57" y2="540.85" stroke="#4a4a4a" stroke-width="0.85"/>
<line x1="176.96" y1="544.74" x2="185.63" y2="549.72" stroke="#4a4a4a" stroke-width="0.85"/>
<line x1="176.96" y1="546.24" x2="185.63" y2="551.22" stroke="#4a4a4a" stroke-width="0.85"/>
<line x1="121.7" y1="439.5" x2="288" y2="534" stroke="#2e2e2e" stroke-width="1.3"/>
<line x1="121.5" y1="439.5" x2="121.5" y2="451.4" stroke="#2e2e2e" stroke-width="1.56"/>
<path d="M121.7 451.2 L130.2 456" fill="none" stroke="#2e2e2e" stroke-width="1.3" />
<line x1="130.2" y1="454.6" x2="271.5" y2="535.2" stroke="#2e2e2e" stroke-width="1.3"/>
<line x1="130.2" y1="456.6" x2="271.5" y2="537.2" stroke="#2e2e2e" stroke-width="1.3"/>
<path d="M288 534 L287.2 536.9 L271.5 536.9" fill="none" stroke="#2e2e2e" stroke-width="1.3" />
<line x1="128.66" y1="445.45" x2="136.92" y2="450.15" stroke="#4a4a4a" stroke-width="0.85"/>
<line x1="128.66" y1="446.95" x2="136.92" y2="451.65" stroke="#4a4a4a" stroke-width="0.85"/>
<line x1="145.96" y1="455.28" x2="154.22" y2="459.98" stroke="#4a4a4a" stroke-width="0.85"/>
<line x1="145.96" y1="456.78" x2="154.22" y2="461.48" stroke="#4a4a4a" stroke-width="0.85"/>
<line x1="163.26" y1="465.12" x2="171.52" y2="469.81" stroke="#4a4a4a" stroke-width="0.85"/>
<line x1="163.26" y1="466.62" x2="171.52" y2="471.31" stroke="#4a4a4a" stroke-width="0.85"/>
<line x1="180.56" y1="474.95" x2="188.82" y2="479.64" stroke="#4a4a4a" stroke-width="0.85"/>
<line x1="180.56" y1="476.45" x2="188.82" y2="481.14" stroke="#4a4a4a" stroke-width="0.85"/>
<line x1="197.86" y1="484.78" x2="206.12" y2="489.47" stroke="#4a4a4a" stroke-width="0.85"/>
<line x1="197.86" y1="486.28" x2="206.12" y2="490.97" stroke="#4a4a4a" stroke-width="0.85"/>
<line x1="215.16" y1="494.61" x2="223.42" y2="499.3" stroke="#4a4a4a" stroke-width="0.85"/>
<line x1="215.16" y1="496.11" x2="223.42" y2="500.8" stroke="#4a4a4a" stroke-width="0.85"/>
<line x1="232.47" y1="504.44" x2="240.73" y2="509.14" stroke="#4a4a4a" stroke-width="0.85"/>
<line x1="232.47" y1="505.94" x2="240.73" y2="510.64" stroke="#4a4a4a" stroke-width="0.85"/>
<line x1="249.77" y1="514.27" x2="258.03" y2="518.97" stroke="#4a4a4a" stroke-width="0.85"/>
<line x1="249.77" y1="515.77" x2="258.03" y2="520.47" stroke="#4a4a4a" stroke-width="0.85"/>
<line x1="267.07" y1="524.11" x2="275.33" y2="528.8" stroke="#4a4a4a" stroke-width="0.85"/>
<line x1="267.07" y1="525.61" x2="275.33" y2="530.3" stroke="#4a4a4a" stroke-width="0.85"/>
<path d="M199.5 484.8 L191.3 489.8" fill="none" stroke="#2e2e2e" stroke-width="1.3" />
<path d="M208.5 490.2 L200.3 495" fill="none" stroke="#2e2e2e" stroke-width="1.3" />
<line x1="191.3" y1="489.8" x2="200.3" y2="495" stroke="#2a2a2a" stroke-width="2.08"/>
<path d="M243 508.8 L234.8 514.2" fill="none" stroke="#2e2e2e" stroke-width="1.3" />
<path d="M252 514.2 L243.8 519.3" fill="none" stroke="#2e2e2e" stroke-width="1.3" />
<line x1="234.8" y1="514.2" x2="243.8" y2="519.3" stroke="#2a2a2a" stroke-width="2.08"/>
<circle cx="118.5" cy="196.5" r="12.5" fill="none" stroke="#2e2e2e" stroke-width="1.0"/>
<text transform="matrix(0.2342 0 0 0.2045 106.00 204.54)" font-size="100" fill="#262626">ア</text>
<circle cx="221.8" cy="171.2" r="12.6" fill="none" stroke="#2e2e2e" stroke-width="1.0"/>
<text transform="matrix(0.1931 0 0 0.2273 211.64 180.60)" font-size="100" fill="#262626">イ</text>
<circle cx="166.9" cy="283.9" r="12.5" fill="none" stroke="#2e2e2e" stroke-width="1.0"/>
<text transform="matrix(0.2038 0 0 0.2327 156.83 292.94)" font-size="100" fill="#262626">ウ</text>
<circle cx="302.1" cy="321.9" r="12.5" fill="none" stroke="#2e2e2e" stroke-width="1.0"/>
<text transform="matrix(0.2038 0 0 0.2327 292.03 330.94)" font-size="100" fill="#262626">ウ</text>
<circle cx="395" cy="394" r="12.5" fill="none" stroke="#2e2e2e" stroke-width="1.0"/>
<text transform="matrix(0.2038 0 0 0.2327 384.93 403.04)" font-size="100" fill="#262626">ウ</text>
<circle cx="465.3" cy="438.5" r="12.5" fill="none" stroke="#2e2e2e" stroke-width="1.0"/>
<text transform="matrix(0.2038 0 0 0.2327 455.23 447.54)" font-size="100" fill="#262626">ウ</text>
<circle cx="45" cy="434.5" r="12.5" fill="none" stroke="#2e2e2e" stroke-width="1.0"/>
<text transform="matrix(0.2038 0 0 0.2327 34.93 443.54)" font-size="100" fill="#262626">ウ</text>
<circle cx="217.2" cy="343.5" r="12.6" fill="none" stroke="#2e2e2e" stroke-width="1.0"/>
<text transform="matrix(0.2090 0 0 0.2090 209.52 350.70)" font-size="100" fill="#262626" stroke="#fff" stroke-width="0.96">C</text>
<circle cx="243.8" cy="423.3" r="12.6" fill="none" stroke="#2e2e2e" stroke-width="1.0"/>
<text transform="matrix(0.2108 0 0 0.2108 236.46 430.55)" font-size="100" fill="#262626" stroke="#fff" stroke-width="0.95">B</text>
<circle cx="292.7" cy="412" r="12.6" fill="none" stroke="#2e2e2e" stroke-width="1.0"/>
<text transform="matrix(0.2108 0 0 0.2108 285.36 419.25)" font-size="100" fill="#262626" stroke="#fff" stroke-width="0.95">B</text>
<circle cx="388" cy="455.3" r="12.6" fill="none" stroke="#2e2e2e" stroke-width="1.0"/>
<text transform="matrix(0.2108 0 0 0.2108 380.66 462.55)" font-size="100" fill="#262626" stroke="#fff" stroke-width="0.95">B</text>
<circle cx="472" cy="502.5" r="12.6" fill="none" stroke="#2e2e2e" stroke-width="1.0"/>
<text transform="matrix(0.2090 0 0 0.2090 464.32 509.70)" font-size="100" fill="#262626" stroke="#fff" stroke-width="0.96">C</text>
<circle cx="108" cy="435.7" r="12.6" fill="none" stroke="#2e2e2e" stroke-width="1.0"/>
<text transform="matrix(0.2108 0 0 0.2108 100.97 442.95)" font-size="100" fill="#262626" stroke="#fff" stroke-width="0.95">A</text>
<circle cx="19.7" cy="460.2" r="12.6" fill="none" stroke="#2e2e2e" stroke-width="1.0"/>
<text transform="matrix(0.2090 0 0 0.2090 12.02 467.40)" font-size="100" fill="#262626" stroke="#fff" stroke-width="0.96">C</text>
</svg>
</body></html>
